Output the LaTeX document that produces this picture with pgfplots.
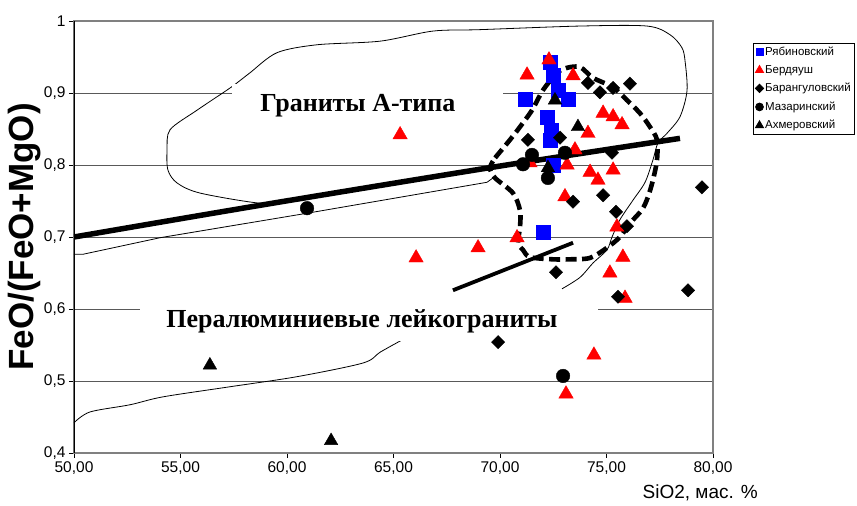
\documentclass[border=0pt]{standalone}
\usepackage{fontspec}
\setmainfont{Liberation Sans}
\newfontfamily\tnr{Liberation Serif}
\usepackage{pgfplots}
\pgfplotsset{compat=1.18}
\begin{document}
\begin{tikzpicture}[x=1pt,y=1pt]
\path[use as bounding box] (0,0) rectangle (857,506);
\begin{axis}[
  at={(74pt,53pt)}, anchor=south west, scale only axis,
  width=639pt, height=432pt,
  xmin=50, xmax=80, ymin=0.4, ymax=1,
  xtick={50,55,60,65,70,75,80},
  ytick={0.4,0.5,0.6,0.7,0.8,0.9,1},
  xtick pos=bottom, ytick pos=left, tick align=outside,
  major tick length=5pt,
  tick style={black, line width=0.8pt},
  axis line style={draw=black!50, line width=1.6pt},
  ymajorgrids, grid style={black!65, line width=0.8pt},
  ticklabel style={font=\fontsize{15.5}{17}\selectfont},
  xticklabel style={/pgf/number format/.cd, fixed, fixed zerofill, precision=2, use comma, assume math mode=true},
  yticklabel style={/pgf/number format/.cd, use comma, assume math mode=true},
  xlabel={SiO2, мас. \%},
  xlabel style={at={(axis description cs:0.98,-0.0926)}, anchor=center, font=\fontsize{19}{22}\selectfont},
  ylabel={FeO/(FeO+MgO)},
  ylabel style={at={(axis description cs:-0.0767,0.5)}, anchor=center, font=\bfseries\fontsize{35}{38}\selectfont},
  legend style={at={(axis description cs:1.0626,0.949)}, anchor=north west,
    draw=black, line width=0.8pt, font=\fontsize{11.5}{13}\selectfont,
    inner sep=2pt, row sep=5.5pt, nodes={inner sep=1.5pt}},
  legend cell align=left,
  legend image code/.code={\draw[#1] plot coordinates {(0pt,0pt)};},
]
% legend entries
\addlegendimage{only marks, mark=square*, blue, mark size=3.5pt}
\addlegendentry{Рябиновский}
\addlegendimage{only marks, mark=triangle*, red, mark size=4.7pt}
\addlegendentry{Бердяуш}
\addlegendimage{only marks, mark=square*, black, mark size=2.9pt, mark options={rotate=45}}
\addlegendentry{Барангуловский}
\addlegendimage{only marks, mark=*, black, mark size=3.9pt}
\addlegendentry{Мазаринский}
\addlegendimage{only marks, mark=triangle*, black, mark size=4.7pt}
\addlegendentry{Ахмеровский}

% thin boundary lines
\addplot[forget plot, black, line width=0.8pt, smooth] coordinates {
(60.14,0.751) (58.73,0.747) (55.92,0.761) (54.84,0.775) (54.41,0.793) (54.37,0.821) (54.51,0.849) (55.77,0.876) (57.18,0.904) (57.65,0.914) (58.26,0.928) (59.53,0.956) (61.41,0.967) (64.37,0.972) (66.85,0.986) (69.06,0.988) (73.76,0.993) (76.90,0.993) (77.98,0.981) (78.54,0.963) (78.69,0.944) (78.78,0.903) (78.45,0.867) (77.84,0.844) (77.42,0.831) (77.18,0.807) (76.81,0.776) (76.24,0.751) (75.63,0.724) (75.26,0.700) (75.02,0.682) (74.37,0.664) (73.76,0.644) (72.91,0.628)};
\addplot[forget plot, black, line width=0.8pt] coordinates {
(50,0.676) (50.42,0.676) (54.04,0.699) (60.94,0.733) (69.39,0.776) (69.67,0.782)};
\addplot[forget plot, black, line width=0.8pt, smooth] coordinates {
(50,0.442) (50.75,0.457) (52.63,0.467) (54.18,0.478) (57.32,0.492) (60.47,0.506) (63.57,0.525) (64.37,0.540) (65.40,0.557)};
% thick lines
\addplot[forget plot, black, line width=5.5pt, smooth] coordinates {
(50,0.700) (58.73,0.744) (69.67,0.797) (78.45,0.837)};
\addplot[forget plot, black, line width=3.8pt] coordinates {
(67.79,0.626) (73.43,0.692)};
% dashed field
\addplot[forget plot, black, line width=4.6pt, dash pattern=on 11pt off 5.5pt, smooth] coordinates {
(69.77,0.810) (70.47,0.835) (70.94,0.853) (71.50,0.876) (72.02,0.904) (72.68,0.928) (73.15,0.935) (73.76,0.936) (74.37,0.921) (75.31,0.908) (75.96,0.890) (76.57,0.872) (77.04,0.853) (77.37,0.835) (77.37,0.807) (77.18,0.779) (76.95,0.756) (76.67,0.738) (76.10,0.719) (75.63,0.700) (75.02,0.685) (74.23,0.671) (73.29,0.669) (72.49,0.669) (71.41,0.672) (71.08,0.682) (70.85,0.692) (70.94,0.714) (70.94,0.737) (70.61,0.761) (69.77,0.782) (69.53,0.796) (69.77,0.810)};

% white label boxes
\fill[white] (axis cs:57.42,0.9125) rectangle (axis cs:70.14,0.8556);
\fill[white] (axis cs:53.10,0.618) rectangle (axis cs:74.60,0.556);
\node[anchor=base, font=\tnr\bfseries\fontsize{26}{30}\selectfont, inner sep=0pt] at (axis cs:63.33,0.874) {Граниты А-типа};
\node[anchor=base, font=\tnr\bfseries\fontsize{26}{30}\selectfont, inner sep=0pt] at (axis cs:63.52,0.575) {Пералюминиевые лейкограниты};

% Рябиновский
\addplot[forget plot, only marks, mark=square*, mark size=7pt, blue] coordinates {
(72.35,0.943) (72.49,0.925) (72.72,0.904) (71.17,0.892) (73.19,0.892) (72.21,0.867) (72.39,0.849) (72.35,0.835) (72.49,0.800) (72.02,0.707)};
% Бердяуш
\addplot[forget plot, only marks, mark=triangle*, mark size=8.3pt, red] coordinates {
(72.30,0.946) (71.27,0.925) (73.43,0.924) (65.31,0.842) (74.84,0.872) (75.31,0.867) (75.73,0.856) (74.13,0.844) (73.52,0.821) (73.15,0.800) (71.41,0.803) (74.23,0.790) (74.60,0.779) (75.31,0.793) (73.05,0.756) (70.80,0.699) (68.97,0.685) (66.06,0.671) (75.49,0.714) (75.77,0.672) (75.16,0.650) (75.87,0.615) (74.41,0.536) (73.10,0.482)};
% Барангуловский
\addplot[forget plot, only marks, mark=square*, mark size=4.7pt, black, mark options={rotate=45}] coordinates {
(74.13,0.914) (74.69,0.901) (75.31,0.907) (76.10,0.913) (71.31,0.835) (72.82,0.838) (75.26,0.817) (73.43,0.749) (72.63,0.651) (74.84,0.758) (75.45,0.735) (75.96,0.715) (79.48,0.769) (78.83,0.626) (75.54,0.617) (69.91,0.554)};
% Мазаринский
\addplot[forget plot, only marks, mark=*, mark size=6.8pt, black] coordinates {
(60.94,0.740) (71.08,0.801) (71.50,0.814) (72.25,0.782) (73.05,0.817) (72.96,0.507)};
% Ахмеровский
\addplot[forget plot, only marks, mark=triangle*, mark size=7.8pt, black] coordinates {
(56.38,0.522) (62.07,0.417) (72.58,0.890) (73.66,0.853) (72.25,0.796)};

\draw[black, line width=1.6pt] (rel axis cs:0,0) -- (rel axis cs:0,1);
\end{axis}
\end{tikzpicture}
\end{document}
